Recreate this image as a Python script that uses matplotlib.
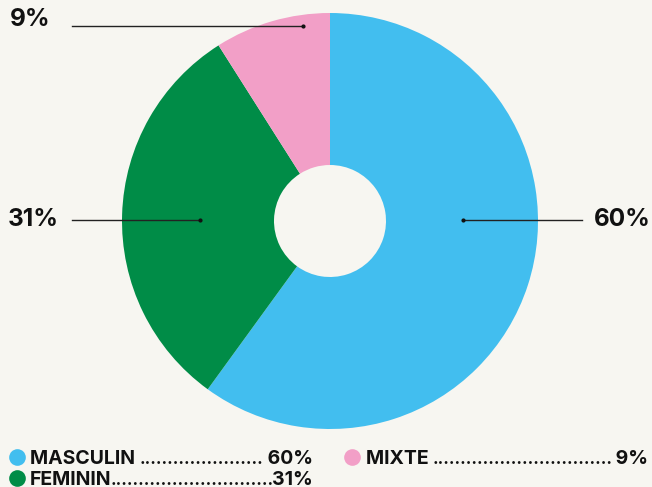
import matplotlib
matplotlib.use("Agg")
import matplotlib.pyplot as plt
import matplotlib.transforms as mtransforms

labels = ["MASCULIN", "FEMININ", "MIXTE"]
values = [60, 31, 9]
colors = ["#42BEEF", "#008C47", "#F29FC7"]

BG = "#F7F6F1"
W, H = 652, 487

plt.rcParams["font.family"] = ["Inter", "DejaVu Sans"]

fig = plt.figure(figsize=(W / 100, H / 100), dpi=100, facecolor=BG)
ax = fig.add_axes([0, 0, 1, 1])
ax.set_facecolor(BG)


def py(y):
    # pixel row (from top) to data y
    return H - y


cx, cy, r = 330, py(221), 208
ax.pie(values, colors=colors, startangle=90, counterclock=False,
       center=(cx, cy), radius=r, frame=True,
       wedgeprops=dict(width=r - 56, linewidth=0))
ax.set_xlim(0, W)
ax.set_ylim(0, H)
ax.set_aspect("equal")
ax.axis("off")

# callout lines + percentages
callouts = [
    ("60%", (463, 582), 220, 622, "right"),
    ("31%", (72, 200), 220, 33, "left"),
    ("9%", (72, 303), 26, 30, "left"),
]
for txt, (x0, x1), yy, tx, side in callouts:
    ax.plot([x0, x1], [py(yy), py(yy)], color="#222222", lw=1)
    dot_x = x1 if side == "left" else x0
    ax.plot(dot_x, py(yy), "o", color="#111111", ms=2)
    ty = py(yy) if txt != "9%" else py(20)
    ax.text(tx, ty, txt, ha="center", va="center", fontsize=17.5,
            fontweight="bold", color="#111111")

# legend with dot leaders
FS = 14
DFS = 12.5
legend = [
    (0, 17, 30, 313, 457, " "),
    (2, 352, 366, 648, 457, " "),
    (1, 17, 30, 313, 478, ""),
]
fig.canvas.draw()
renderer = fig.canvas.get_renderer()
pix_x = mtransforms.blended_transform_factory(
    mtransforms.IdentityTransform(), ax.transData)
probe = ax.text(0, 0, "." * 40, fontsize=DFS, fontweight="bold")
dw = probe.get_window_extent(renderer).width / 40
probe.remove()
for i, dx, x0, x1, yy, gap in legend:
    ax.plot(dx, py(yy), "o", color=colors[i], ms=12, mec="none")
    base = py(yy + 7)
    name = ax.text(x0, base, labels[i] + gap, ha="left", va="baseline",
                   fontsize=FS, fontweight="bold", color="#111111")
    val = ax.text(x1, base, gap + f"{values[i]}%", ha="right", va="baseline",
                  fontsize=FS, fontweight="bold", color="#111111")
    nb = name.get_window_extent(renderer)
    vb = val.get_window_extent(renderer)
    n = int(round((vb.x0 - nb.x1) / dw))
    ax.text((nb.x1 + vb.x0) / 2, base, "." * n, ha="center",
            va="baseline", fontsize=DFS, fontweight="bold",
            color="#111111", transform=pix_x)

fig.savefig("out.png", dpi=100, facecolor=BG)
